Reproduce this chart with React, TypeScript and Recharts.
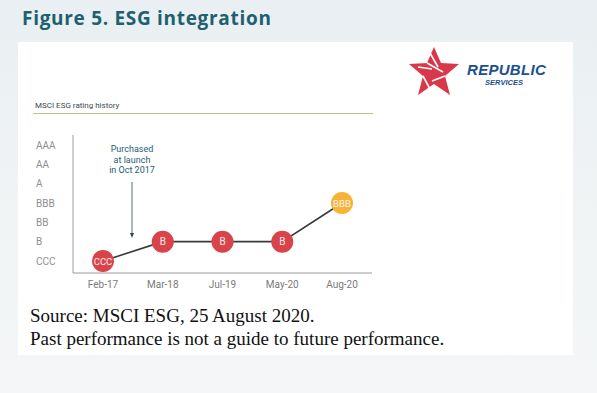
import React from "react";
import { LineChart, Line, XAxis, YAxis } from "recharts";

// MSCI ESG rating history
const dates = ["Feb-17", "Mar-18", "Jul-19", "May-20", "Aug-20"];
const ratingScale = ["CCC", "B", "BB", "BBB", "A", "AA", "AAA"];
const ratings = ["CCC", "B", "B", "B", "BBB"];

const data = dates.map((d, i) => ({
  date: d,
  rating: ratings[i],
  level: ratingScale.indexOf(ratings[i]),
}));

const RED = "#d9444b";
const AMBER = "#f6b335";
const TEAL = "#1e6070";

const RatingDot = (props: any) => {
  const { cx, cy, payload } = props;
  if (cx == null || cy == null) return null;
  const fill = payload.level >= 2 ? AMBER : RED;
  return (
    <g>
      <circle cx={cx} cy={cy} r={11} fill={fill} />
      <text
        x={cx}
        y={cy + 3.5}
        textAnchor="middle"
        fill="#fff"
        fontSize={payload.rating.length > 2 ? 9.5 : 10}
        fontFamily="Roboto, sans-serif"
        opacity={0.9}
      >
        {payload.rating}
      </text>
    </g>
  );
};

const YTick = (props: any) => {
  const { y, payload } = props;
  return (
    <text
      x={36}
      y={y + 3.5}
      textAnchor="start"
      fill="#8f8f8f"
      fontSize={10}
      fontFamily="Roboto, sans-serif"
    >
      {ratingScale[payload.value]}
    </text>
  );
};

const Logo = () => (
  <svg
    width={150}
    height={55}
    style={{ position: "absolute", left: 408, top: 45 }}
  >
    <polygon
      points="26,2 33,18 51,19 37,31 42,50 26,39 10,50 15,31 1,19 19,18"
      fill="#d8384a"
    />
    <g stroke="#fff" strokeWidth={1.6} fill="none">
      <path d="M22,8 L30,22 M19,18 L35,27 M37,31 L24,36 M15,31 L22,44 M10,22 L24,24" />
    </g>
    <text
      x={59}
      y={30}
      fill="#1d4f8e"
      fontSize={15}
      fontWeight={700}
      fontStyle="italic"
      fontFamily="'Liberation Sans', Arial, sans-serif"
      letterSpacing={0.3}
    >
      REPUBLIC
    </text>
    <text
      x={77}
      y={40}
      fill="#1d4f8e"
      fontSize={7.5}
      fontWeight={700}
      fontStyle="italic"
      fontFamily="'Liberation Sans', Arial, sans-serif"
    >
      SERVICES
    </text>
  </svg>
);

export default function App() {
  return (
    <div
      style={{
        position: "absolute",
        left: 0,
        top: 0,
        width: 597,
        height: 393,
        overflow: "hidden",
        background: "linear-gradient(180deg, #e9eff2 0%, #f1f4f5 60%, #f4f6f7 100%)",
      }}
    >
      <div
        style={{
          position: "absolute",
          left: 22,
          top: 5,
          color: TEAL,
          fontFamily: "'Open Sans', sans-serif",
          fontWeight: 700,
          fontSize: 19,
          letterSpacing: 0.7,
        }}
      >
        Figure 5. ESG integration
      </div>
      <div
        style={{
          position: "absolute",
          left: 18,
          top: 42,
          width: 555,
          height: 313,
          background: "#fff",
        }}
      />
      <Logo />
      <div
        style={{
          position: "absolute",
          left: 35,
          top: 101,
          fontSize: 8,
          color: "#3a4a4f",
          fontFamily: "Roboto, sans-serif",
        }}
      >
        MSCI ESG rating history
      </div>
      <div
        style={{
          position: "absolute",
          left: 33,
          top: 113,
          width: 340,
          height: 1,
          background: "#b9c48a",
        }}
      />
      <div style={{ position: "absolute", left: 0, top: 0 }}>
        <LineChart
          width={597}
          height={393}
          data={data}
          margin={{ top: 135, right: 225, bottom: 100, left: 33 }}
        >
          <XAxis
            dataKey="date"
            padding={{ left: 30, right: 30 }}
            axisLine={{ stroke: "#9a9a9a" }}
            tickLine={false}
            tick={{ fill: "#7a7a7a", fontSize: 10, fontFamily: "Roboto, sans-serif" }}
            height={20}
            interval={0}
          />
          <YAxis
            type="number"
            domain={[0, 6]}
            ticks={[0, 1, 2, 3, 4, 5, 6]}
            interval={0}
            padding={{ top: 10, bottom: 12 }}
            width={40}
            axisLine={{ stroke: "#9a9a9a" }}
            tickLine={false}
            tick={<YTick />}
          />
          <Line
            type="linear"
            dataKey="level"
            stroke="#3a3a3a"
            strokeWidth={1.6}
            dot={<RatingDot />}
            activeDot={false}
            isAnimationActive={false}
          />
        </LineChart>
      </div>
      <div
        style={{
          position: "absolute",
          left: 96,
          top: 144,
          width: 72,
          textAlign: "center",
          fontSize: 9,
          lineHeight: "10.5px",
          color: TEAL,
          fontFamily: "Roboto, sans-serif",
        }}
      >
        Purchased
        <br />
        at launch
        <br />
        in Oct 2017
      </div>
      <svg
        width={10}
        height={60}
        style={{ position: "absolute", left: 127, top: 181 }}
      >
        <line x1={5} y1={1} x2={5} y2={54} stroke="#2c4a52" strokeWidth={0.8} />
        <polygon points="3,52 7,52 5,57" fill="#2c4a52" />
      </svg>
      <div
        style={{
          position: "absolute",
          left: 30,
          top: 304,
          fontFamily: "'Liberation Serif', serif",
          fontSize: 19,
          lineHeight: "23px",
          color: "#111",
        }}
      >
        Source: MSCI ESG, 25 August 2020.
        <br />
        Past performance is not a guide to future performance.
      </div>
    </div>
  );
}
